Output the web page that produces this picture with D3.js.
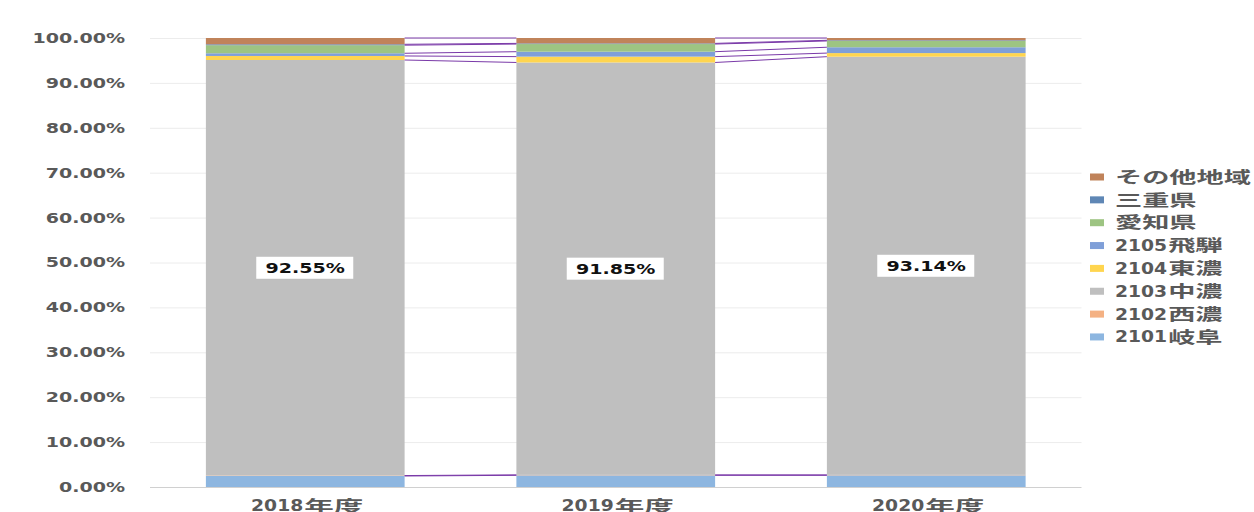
<!DOCTYPE html>
<html>
<head>
<meta charset="utf-8">
<script src="https://cdn.jsdelivr.net/npm/d3@7"></script>
<style>
    body { margin: 0; background: #fff; }
    svg { display: block; }
</style>
</head>
<body>
<div id="chart"></div>
<script>
// years on the x axis
const years = ["2018年度", "2019年度", "2020年度"];

// series, bottom to top
const seriesNames = ["2101岐阜", "2102西濃", "2103中濃", "2104東濃", "2105飛騨", "愛知県", "三重県", "その他地域"];
const seriesColors = ["#8db6e0", "#f4b183", "#bfbfbf", "#ffd54f", "#7f9fd8", "#9dc482", "#5f87b5", "#c0835a"];

// shares in % per year
const gifu  = [2.45, 2.6, 2.6];
const seino = [0.1, 0.1, 0.1];
const chuno = [92.55, 91.85, 93.14];
const tono  = [0.9, 1.3, 0.8];
const hida  = [0.6, 1.1, 1.3];
const aichi = [1.8, 1.7, 1.4];
const mie   = [0.2, 0.15, 0.15];
const other = [1.4, 1.2, 0.51];

const yTicks = [0, 10, 20, 30, 40, 50, 60, 70, 80, 90, 100];

const seriesValues = [gifu, seino, chuno, tono, hida, aichi, mie, other];

// build rows for d3.stack
let rows = years.map(function (y, i) {
    let row = { year: y };
    seriesNames.forEach(function (s, j) { row[s] = seriesValues[j][i]; });
    return row;
});

let margin = { top: 38, right: 172.5, bottom: 25, left: 150 };
let width = 1254 - margin.left - margin.right;
let height = 512 - margin.top - margin.bottom;

let svg = d3.select("#chart").append("svg")
    .attr("width", 1254)
    .attr("height", 512)
    .append("g")
    .attr("transform", "translate(" + margin.left + "," + margin.top + ")");

let x = d3.scaleBand()
    .domain(years)
    .range([0, width])
    .paddingInner(0.36)
    .paddingOuter(0.18);

let y = d3.scaleLinear()
    .domain([0, 100])
    .range([height, 0]);

const numFont = "'DejaVu Sans', 'Noto Sans CJK JP', sans-serif";
const cjkFont = "'Noto Sans CJK JP', sans-serif";
const sx = 1.36;

// digits and japanese part drawn as two texts, each with its own stretch
// returns the drawn width
function mixedText(g, str, o) {
    let m = /^(\d*)(.*)$/.exec(str);
    let w = 0;
    if (m[1]) {
        let t = g.append("text")
            .attr("dy", "0.36em")
            .style("font-family", numFont)
            .style("font-size", o.numSize + "px")
            .style("font-weight", "bold")
            .attr("fill", "#595959")
            .text(m[1]);
        t.attr("transform", "scale(" + o.numScale + ",1)");
        w = t.node().getComputedTextLength() * o.numScale + 1;
    }
    let c = g.append("text")
        .attr("dy", "0.36em")
        .style("font-family", cjkFont)
        .style("font-size", o.cjkSize + "px")
        .style("font-weight", "bold")
        .attr("fill", "#595959")
        .text(m[2]);
    c.attr("transform", "translate(" + w + ",0) scale(" + o.cjkScale + ",1)");
    w += c.node().getComputedTextLength() * o.cjkScale;
    return w;
}

// gridlines + y labels
let yAxis = d3.axisLeft(y)
    .tickValues(yTicks)
    .tickSize(-width)
    .tickFormat(function (d) { return d.toFixed(2) + "%"; });

let gy = svg.append("g").attr("class", "y-axis").call(yAxis);
gy.select(".domain").remove();
gy.selectAll(".tick line")
    .attr("stroke", function (d) { return d === 0 ? "#d0d0d0" : "#ececec"; });
gy.selectAll(".tick text")
    .attr("x", -25 / sx)
    .attr("transform", "scale(" + sx + ",1)")
    .style("font-family", numFont)
    .style("font-weight", "bold")
    .style("font-size", "14px")
    .attr("fill", "#595959");

// stacked bars
let stack = d3.stack().keys(seriesNames);
let stacked = stack(rows);

svg.selectAll(".layer")
    .data(stacked)
    .enter()
    .append("g")
    .attr("class", "layer")
    .attr("fill", function (d, i) { return seriesColors[i]; })
    .selectAll("rect")
    .data(function (d) { return d; })
    .enter()
    .append("rect")
    .attr("x", function (d) { return x(d.data.year); })
    .attr("width", x.bandwidth())
    .attr("y", function (d) { return y(d[1]); })
    .attr("height", function (d) { return y(d[0]) - y(d[1]); });

// series lines between bars
stacked.forEach(function (layer) {
    for (let i = 0; i < layer.length - 1; i++) {
        svg.append("line")
            .attr("x1", x(years[i]) + x.bandwidth())
            .attr("x2", x(years[i + 1]))
            .attr("y1", y(layer[i][1]))
            .attr("y2", y(layer[i + 1][1]))
            .attr("stroke", "#7a3aa8")
            .attr("stroke-width", 1);
    }
});

// data labels on 2103中濃
let mid = stacked[2];
let labels = svg.selectAll(".dlabel")
    .data(mid)
    .enter()
    .append("g")
    .attr("class", "dlabel")
    .attr("transform", function (d) {
        return "translate(" + (x(d.data.year) + x.bandwidth() / 2) + "," + y((d[0] + d[1]) / 2) + ")";
    });

labels.append("rect")
    .attr("x", -49)
    .attr("y", -11)
    .attr("width", 97)
    .attr("height", 22)
    .attr("fill", "#fff");

labels.append("text")
    .attr("transform", "scale(" + sx + ",1)")
    .attr("text-anchor", "middle")
    .attr("dy", "0.36em")
    .style("font-family", numFont)
    .style("font-weight", "bold")
    .style("font-size", "14px")
    .attr("fill", "#111")
    .text(function (d) { return (d[1] - d[0]).toFixed(2) + "%"; });

// x labels, centred under the bars
years.forEach(function (d) {
    let g = svg.append("g").attr("class", "xlabel");
    let w = mixedText(g, d, { numSize: 15, numScale: 1.25, cjkSize: 16, cjkScale: 1.85 });
    g.attr("transform", "translate(" + (x(d) + x.bandwidth() / 2 + 2 - w / 2) + "," + (height + 19) + ")");
});

// legend, top series first
let legend = svg.append("g")
    .attr("transform", "translate(" + (1090 - margin.left) + "," + (177 - margin.top) + ")");

seriesNames.slice().reverse().forEach(function (d, i) {
    let item = legend.append("g")
        .attr("class", "item")
        .attr("transform", "translate(0," + (i * 22.85) + ")");
    item.append("rect")
        .attr("x", 0)
        .attr("y", -3.5)
        .attr("width", 14)
        .attr("height", 7)
        .attr("fill", seriesColors[seriesNames.indexOf(d)]);
    let t = item.append("g").attr("transform", "translate(25,0)");
    mixedText(t, d, { numSize: 15, numScale: 1.25, cjkSize: 16, cjkScale: 1.7 });
});
</script>
</body>
</html>
